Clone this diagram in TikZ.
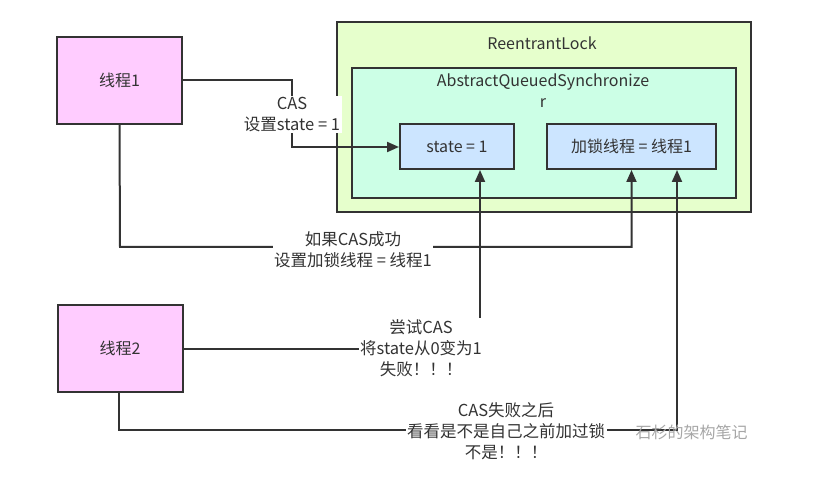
\documentclass[tikz,border=0pt]{standalone}
\usepackage{fontspec}
\setmainfont{Noto Sans CJK SC}
\usetikzlibrary{arrows.meta}
\definecolor{pinkfill}{HTML}{FFCCFF}
\definecolor{lockfill}{HTML}{E6FFCC}
\definecolor{aqsfill}{HTML}{CCFFE6}
\definecolor{bluefill}{HTML}{CCE5FF}
\definecolor{edgecol}{HTML}{333333}
\definecolor{textcol}{HTML}{333333}
\begin{document}
\begin{tikzpicture}[x=1pt,y=-1pt,
  box/.style={draw=edgecol,line width=2pt,rectangle,inner sep=0pt,text=textcol,font=\fontsize{16}{21}\selectfont},
  thread/.style={box,fill=pinkfill,minimum width=125pt,minimum height=87pt},
  field/.style={box,fill=bluefill,minimum height=45pt},
  conn/.style={draw=edgecol,line width=2pt,-{Triangle[length=12pt,width=10pt]}},
  lbl/.style={fill=white,inner sep=1.5pt,align=center,text=textcol,font=\fontsize{16.5}{21}\selectfont}]
\useasboundingbox (0,0) rectangle (813,478);
% containers
\node[box,fill=lockfill,minimum width=414pt,minimum height=190pt] (lock) at (544,117) {};
\node[text=textcol,font=\fontsize{16}{21}\selectfont] (locktitle) at (542,43) {ReentrantLock};
\node[box,fill=aqsfill,minimum width=384pt,minimum height=130pt] (aqs) at (544,133) {};
\node[text=textcol,align=center,font=\fontsize{16}{21}\selectfont] (aqstitle) at (543,91) {AbstractQueuedSynchronize\\r};
% fields
\node[field,minimum width=114pt] (state) at (457,146.5) {state = 1};
\node[field,minimum width=169pt] (owner) at (631.5,146.5) {加锁线程 = 线程1};
% threads
\node[thread] (t1) at (119.5,80.5) {线程1};
\node[thread] (t2) at (120,348) {线程2};
% connectors
\coordinate (c1a) at (292,80);
\coordinate (c1b) at (292,147);
\draw[conn] (t1.east |- c1a) -- (c1a) -- (c1b) -- (state.west |- c1b);
\node[lbl] (l1) at (292,114.5) {CAS\\设置state = 1};

\coordinate (c2a) at (120,247);
\draw[conn] (t1.south) -- (c2a) -| (owner.south);
\node[lbl] (l2) at (353,249.5) {如果CAS成功\\设置加锁线程 = 线程1};

\coordinate (c3a) at (480,349);
\draw[conn] (t2.east |- c3a) -- (c3a) -- (c3a |- state.south);
\node[lbl] (l3) at (421,348.5) {尝试CAS\\将state从0变为1\\失败！！！};

\coordinate (c4a) at (119,430);
\coordinate (c4b) at (677,430);
\draw[conn] (t2.south -| c4a) -- (c4a) -- (c4b) -- (c4b |- owner.south);
\node[lbl] (l4) at (506,431) {CAS失败之后\\看看是不是自己之前加过锁\\不是！！！};
% watermark
\node[text=gray!70,font=\fontsize{16}{21}\selectfont,anchor=west] (wm) at (632,432) {石杉的架构笔记};
\end{tikzpicture}
\end{document}
